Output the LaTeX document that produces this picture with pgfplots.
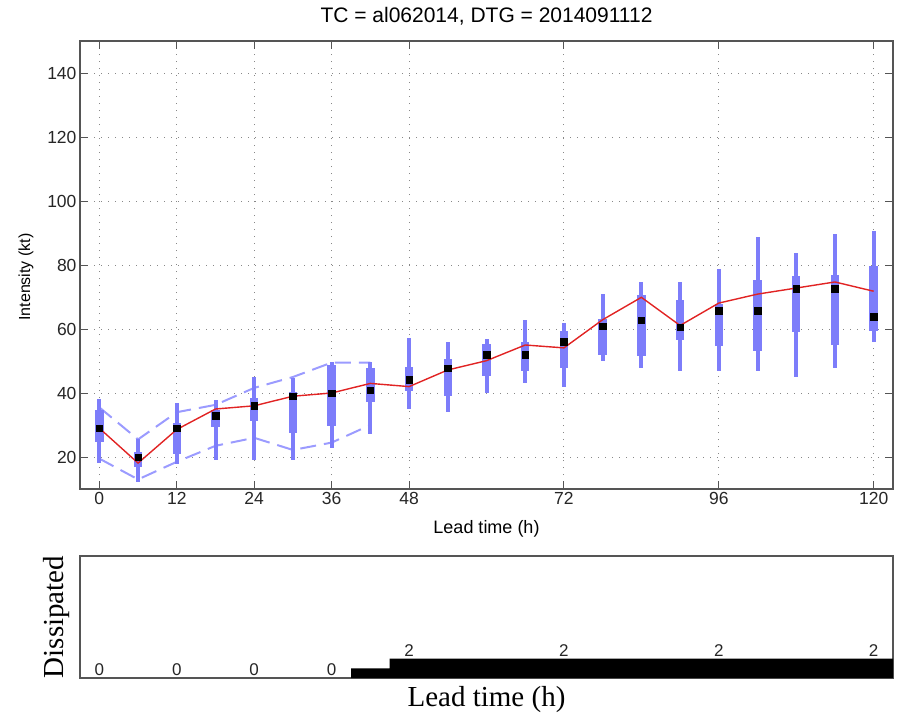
\documentclass[border=0pt]{standalone}
\usepackage{pgfplots}
\pgfplotsset{compat=1.18}
\usepackage{pgfplotstable}
\usepackage{fontspec}
\setmainfont{Liberation Sans}
\newfontfamily\tnr{Liberation Serif}

\definecolor{boxblue}{RGB}{125,125,250}
\definecolor{envblue}{RGB}{155,155,255}
\definecolor{tcred}{RGB}{225,35,35}
\definecolor{axgray}{RGB}{85,85,85}

% lead time, whisker low/high, box low/high, median, consensus (red)
\pgfplotstableread{
t   wlo  whi  blo  bhi  med  red
0   18.1 38.0 24.8 34.7 29.0 29.0
6   12.2 25.7 16.9 21.6 19.9 18.1
12  17.9 36.8 20.8 30.5 29.0 28.6
18  19.0 37.9 29.5 34.7 32.9 35.0
24  19.0 44.9 31.3 38.3 36.0 36.0
30  19.0 44.6 27.4 40.2 39.0 39.0
36  22.9 49.6 29.7 48.8 40.0 40.0
42  27.1 49.6 37.3 47.7 40.9 43.0
48  35.0 57.1 40.7 48.2 44.1 42.0
54  34.0 55.8 39.2 50.6 47.8 47.2
60  40.0 56.9 45.4 55.3 52.0 50.1
66  43.0 62.8 46.8 55.8 52.0 55.0
72  42.0 61.8 47.8 59.5 56.0 54.1
78  49.9 70.9 52.0 63.1 60.9 62.9
84  47.8 74.7 51.5 70.5 62.8 69.9
90  46.8 74.6 56.5 69.1 60.6 61.1
96  46.8 78.8 54.6 67.8 65.7 68.1
102 46.8 88.8 53.0 75.2 65.7 70.9
108 44.9 83.8 59.0 76.7 72.6 72.8
114 47.8 89.7 55.1 77.0 72.6 74.7
120 55.9 90.5 59.3 79.6 63.8 71.8
}\boxdata

% dashed envelope
\pgfplotstableread{
t  up   lo
0  35.5 19.5
6  25.5 13.0
12 34.0 18.5
18 36.3 23.5
24 41.6 26.0
30 45.0 22.2
36 49.5 24.5
42 49.5 30.0
}\envdata

% number dissipated
\pgfplotstableread{
t   n
42  1
48  2
54  2
60  2
66  2
72  2
78  2
84  2
90  2
96  2
102 2
108 2
114 2
120 2
}\dissdata

\pgfplotstableread{
t   n lab
0   0 0
12  0 0
24  0 0
36  0 0
48  2 2
72  2 2
96  2 2
120 2 2
}\disslab

\begin{document}
\begin{tikzpicture}
\useasboundingbox (0pt,0pt) rectangle (904pt,-712pt);

\begin{axis}[
    at={(80pt,-41pt)}, anchor=north west,
    width=813pt, height=448pt, scale only axis,
    xmin=-3, xmax=123, ymin=10, ymax=150,
    xtick={0,12,24,36,48,72,96,120},
    ytick={20,40,...,140},
    tick align=inside, major tick length=8pt,
    axis line style={axgray, line width=1.2pt},
    tick style={axgray, line width=1pt},
    grid=major,
    grid style={axgray!70, line width=1pt, dash pattern=on 1pt off 6pt},
    ticklabel style={font=\fontsize{17.5}{20}\selectfont, text=black!85},
    /pgf/number format/assume math mode=true,
    title={TC = al062014, DTG = 2014091112},
    title style={at={(0.5,1.027)}, anchor=base, font=\fontsize{21}{24}\selectfont},
    xlabel={Lead time (h)},
    xlabel style={at={(0.5,-0.0982)}, anchor=base, font=\fontsize{18}{20}\selectfont},
    ylabel={Intensity (kt)},
    ylabel style={at={(-0.0615,0.473)}, anchor=base, font=\fontsize{16}{20}\selectfont},
]
% envelope
\addplot[envblue, line width=2pt, dash pattern=on 16pt off 8pt] table[x=t, y=up] {\envdata};
\addplot[envblue, line width=2pt, dash pattern=on 16pt off 8pt] table[x=t, y=lo] {\envdata};
% whiskers
\addplot[only marks, mark=none,
    error bars/.cd, y dir=both, y explicit, error mark=none,
    error bar style={line width=4pt, draw=boxblue}]
    table[x=t, y=med,
          y error plus expr=\thisrow{whi}-\thisrow{med},
          y error minus expr=\thisrow{med}-\thisrow{wlo}] {\boxdata};
% boxes
\addplot[only marks, mark=none,
    error bars/.cd, y dir=both, y explicit, error mark=none,
    error bar style={line width=8.5pt, draw=boxblue}]
    table[x=t, y=med,
          y error plus expr=\thisrow{bhi}-\thisrow{med},
          y error minus expr=\thisrow{med}-\thisrow{blo}] {\boxdata};
% consensus
\addplot[tcred, line width=1.4pt] table[x=t, y=red] {\boxdata};
% medians
\addplot[only marks, mark=square*, mark size=3.3pt, black] table[x=t, y=med] {\boxdata};
\end{axis}

\begin{axis}[
    at={(80pt,-556pt)}, anchor=north west,
    width=813pt, height=122pt, scale only axis,
    xmin=-3, xmax=123, ymin=0, ymax=12.6,
    xtick=\empty, ytick=\empty,
    axis line style={axgray, line width=1.2pt},
    xlabel={Lead time (h)},
    xlabel style={at={(0.5,-0.2295)}, anchor=base, font=\tnr\fontsize{29}{32}\selectfont},
    ylabel={Dissipated},
    ylabel style={at={(-0.0209,0.5)}, anchor=base, font=\tnr\fontsize{29}{32}\selectfont},
]
\addplot[ybar, bar width=6, fill=black, draw=none] table[x=t, y=n] {\dissdata};
\addplot[only marks, mark=none, nodes near coords, point meta=explicit symbolic,
    nodes near coords style={anchor=base, yshift=2.5pt, inner sep=0pt,
        font=\fontsize{17}{20}\selectfont, text=black!85}]
    table[x=t, y=n, meta=lab] {\disslab};
\end{axis}
\end{tikzpicture}
\end{document}
